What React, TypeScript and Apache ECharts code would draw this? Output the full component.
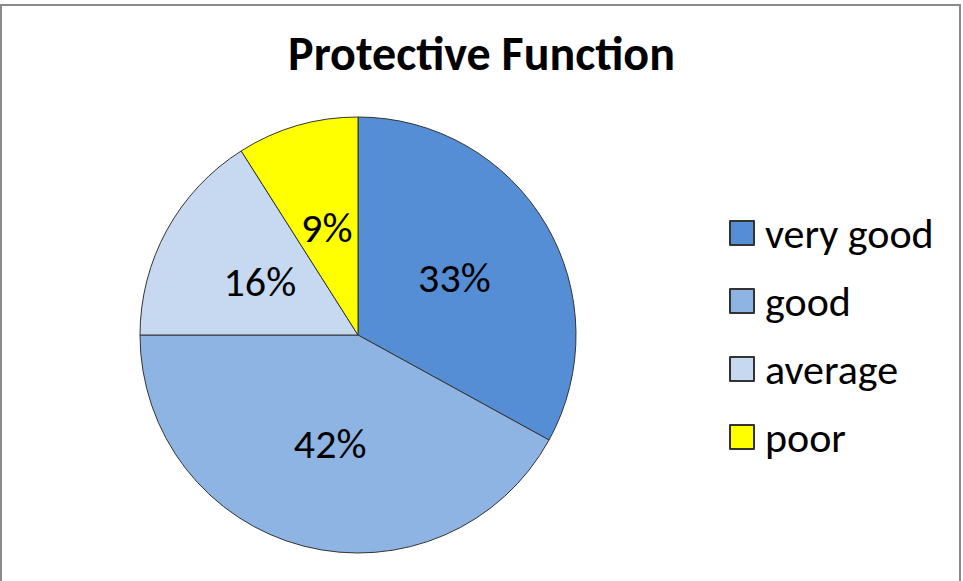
import React, { useEffect, useRef } from "react";
import * as echarts from "echarts";

const categories = ["very good", "good", "average", "poor"];
const values = [33, 42, 16, 9];
const colors = ["#558ED5", "#8EB4E3", "#C6D9F1", "#FFFF00"];
const titleText = "Protective Function";

const FONT = "Carlito, Calibri, Lato, sans-serif";

export default function App() {
  const ref = useRef<HTMLDivElement>(null);
  useEffect(() => {
    if (!ref.current) return;
    const chart = echarts.init(ref.current, null, { renderer: "svg" });
    chart.setOption({
      animation: false,
      backgroundColor: "#ffffff",
      title: {
        text: titleText,
        left: "center",
        top: 29,
        padding: 0,
        textStyle: { fontFamily: FONT, fontSize: 48, fontWeight: "bold", color: "#000" },
      },
      legend: {
        orient: "vertical",
        left: 729,
        top: 212,
        padding: 0,
        itemWidth: 24,
        itemHeight: 24,
        itemGap: 26,
        icon: "rect",
        data: categories,
        textStyle: { fontFamily: FONT, fontSize: 42, color: "#000", padding: [0, 0, 0, 6] },
      },
      graphic: [
        {
          type: "rect",
          shape: { x: 1, y: 5, width: 959, height: 620 },
          style: { fill: "none", stroke: "#8a8a8a", lineWidth: 2 },
          silent: true,
        },
      ],
      series: [
        {
          type: "pie",
          center: [358, 335],
          radius: 218,
          startAngle: 90,
          clockwise: true,
          label: {
            show: true,
            position: "inside",
            formatter: "{c}%",
            fontFamily: FONT,
            fontSize: 42,
            color: "#000",
            padding: [6, 0, 0, 0],
          },
          labelLine: { show: false },
          itemStyle: { borderColor: "#333", borderWidth: 1 },
          emphasis: { disabled: true },
          data: categories.map((name, i) => ({
            name,
            value: values[i],
            itemStyle: { color: colors[i] },
          })),
        },
      ],
    });
    return () => chart.dispose();
  }, []);
  return (
    <div
      ref={ref}
      style={{ position: "fixed", left: 0, top: 0, width: 963, height: 581 }}
    />
  );
}
